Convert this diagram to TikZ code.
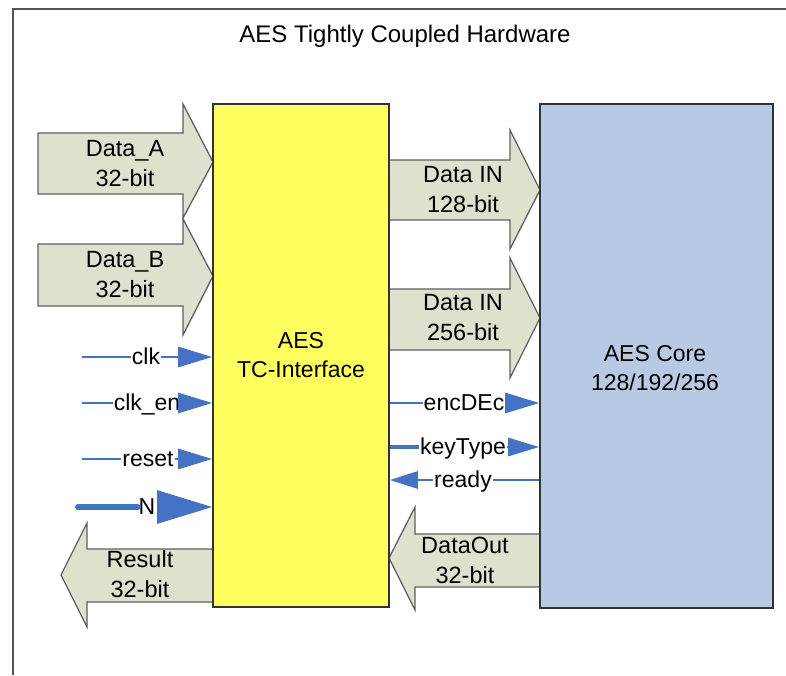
\documentclass[tikz,border=0pt]{standalone}
\usepackage{fontspec}
\setmainfont{Liberation Sans}
\usepackage{xcolor}
\usepackage{tikz}
\usetikzlibrary{arrows.meta, positioning, calc}
\definecolor{tcyellow}{RGB}{255, 255, 95}
\definecolor{coreblue}{RGB}{184, 202, 227}
\definecolor{busfill}{RGB}{221, 225, 205}
\definecolor{busedge}{RGB}{95, 95, 95}
\definecolor{sigblue}{RGB}{68, 114, 196}
\definecolor{framegray}{RGB}{85, 85, 85}

\begin{document}
\begin{tikzpicture}[x=1pt, y=-1pt,
    block/.style={draw=black!80, line width=1.6pt, rectangle, inner sep=0pt},
    blocklbl/.style={align=center, font=\fontsize{23}{29}\selectfont, inner sep=0pt},
    bus/.style={draw=busedge, fill=busfill, line width=1.3pt, line join=miter},
    buslbl/.style={align=center, font=\fontsize{23.5}{30}\selectfont, inner sep=0pt},
    sig/.style={draw=sigblue, line width=2.8pt},
    siglbl/.style={font=\fontsize{23}{26}\selectfont, inner sep=1pt, text height=15pt, text depth=0pt},
    sigtip/.style={-{Triangle[length=34pt, width=20pt]}}
]
    \useasboundingbox (0,0) rectangle (786,675);

    % Frame and title
    \draw[framegray, line width=1.8pt] (786,9) -- (13,9) -- (13,675);
    \node[font=\fontsize{24}{28}\selectfont] (title) at (405,36) {AES Tightly Coupled Hardware};

    % Bus arrows
    \draw[bus] (38,133) -- (183,133) -- (183,104) -- (213,162) -- (183,218) -- (183,194) -- (38,194) -- cycle;
    \draw[bus] (38,244) -- (183,244) -- (183,219) -- (213,276) -- (183,335) -- (183,306) -- (38,306) -- cycle;
    \draw[bus] (389,160) -- (510,160) -- (510,130) -- (540,190) -- (510,249) -- (510,220) -- (389,220) -- cycle;
    \draw[bus] (389,289) -- (510,289) -- (510,258) -- (540,318) -- (510,378) -- (510,350) -- (389,350) -- cycle;
    \draw[bus] (213,549) -- (87,549) -- (87,523) -- (61,575) -- (87,627) -- (87,602) -- (213,602) -- cycle;
    \draw[bus] (540,534) -- (415,534) -- (415,507) -- (389,558) -- (415,610) -- (415,587) -- (540,587) -- cycle;

    % Blocks
    \node[block, fill=tcyellow, minimum width=176pt, minimum height=503pt] (iface) at (301,355.5) {};
    \node[block, fill=coreblue, minimum width=233pt, minimum height=504pt] (core) at (656.5,356) {};
    \node[blocklbl] (iface_lbl) at (301,355) {AES\\TC-Interface};
    \node[blocklbl] (core_lbl) at (655,368) {AES Core\\128/192/256};

    % Bus labels
    \node[buslbl] (dataA) at (125,164) {Data\_A\\32-bit};
    \node[buslbl] (dataB) at (125,275) {Data\_B\\32-bit};
    \node[buslbl] (din128) at (463,190) {Data IN\\128-bit};
    \node[buslbl] (din256) at (463,318) {Data IN\\256-bit};
    \node[buslbl] (result) at (140,574) {Result\\32-bit};
    \node[buslbl] (dout) at (465,560) {DataOut\\32-bit};

    % Control inputs
    \coordinate (clk_src) at (82,357);
    \coordinate (clken_src) at (82,403);
    \coordinate (rst_src) at (82,459);
    \coordinate (n_src) at (78,507);
    \node[siglbl] (clk) at (146,357) {clk};
    \node[siglbl] (clken) at (147,403) {clk\_en};
    \node[siglbl] (rst) at (148,459) {reset};
    \node[siglbl] (n) at (147,507) {N};

    \draw[sig] (clk_src) -- (clk);
    \draw[sig, sigtip] (clk) -- (clk -| iface.west);
    \draw[sig] (clken_src) -- (clken);
    \draw[sig, sigtip] (clken) -- (clken -| iface.west);
    \draw[sig] (rst_src) -- (rst);
    \draw[sig, sigtip] (rst) -- (rst -| iface.west);
    \draw[sig, line width=6pt, line cap=round] (n_src) -- (n);
    \draw[sig, -{Triangle[length=55pt, width=33pt]}] (n) -- (n -| iface.west);

    % Core signals
    \node[siglbl] (encdec) at (464,403) {encDEc};
    \node[siglbl] (keytype) at (463,447) {keyType};
    \node[siglbl] (ready) at (463,480) {ready};

    \draw[sig] (iface.east |- encdec) -- (encdec);
    \draw[sig, sigtip] (encdec) -- (encdec -| core.west);
    \draw[sig, line width=4.5pt] (iface.east |- keytype) -- (keytype);
    \draw[sig, -{Triangle[length=31pt, width=18pt]}] (keytype) -- (keytype -| core.west);
    \draw[sig, line width=1.5pt] (core.west |- ready) -- (ready);
    \draw[sig, -{Triangle[length=28pt, width=17pt]}] (ready) -- (ready -| iface.east);
\end{tikzpicture}
\end{document}
